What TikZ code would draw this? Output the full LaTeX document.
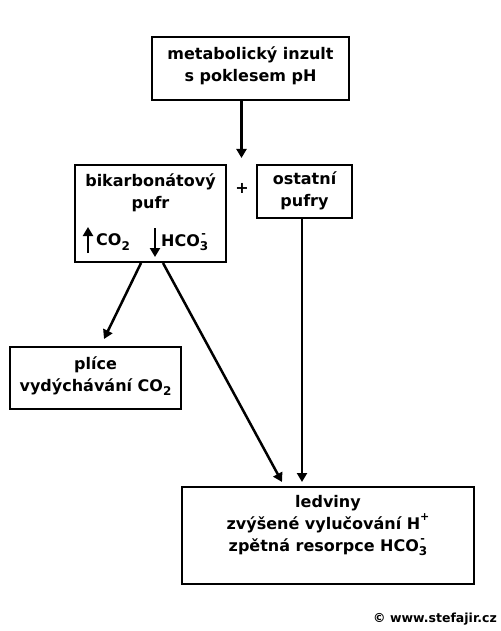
\documentclass[tikz,border=0pt]{standalone}
\usepackage{fontspec}
\setmainfont{DejaVu Sans}
\usetikzlibrary{arrows.meta}
\newcommand{\mysub}[1]{\raisebox{-0.5ex}{\fontsize{12}{12}\selectfont #1}}
\newcommand{\mysup}[1]{\raisebox{1.0ex}{\fontsize{11}{11}\selectfont #1}}
\newcommand{\mysubsup}[2]{\rlap{\raisebox{1.0ex}{\fontsize{11}{11}\selectfont\kern1.5pt #2}}\raisebox{-0.5ex}{\fontsize{12}{12}\selectfont #1}}
\begin{document}
\begin{tikzpicture}[x=1pt,y=-1pt,
  box/.style={draw,line width=2.5pt,inner sep=0pt},
  lbl/.style={font=\bfseries\fontsize{16}{22}\selectfont,align=center,inner sep=0pt},
  arr/.style={line width=2.5pt,-{Triangle[length=9pt,width=10pt]}}]
\useasboundingbox (0,0) rectangle (500,631);
% boxes
\node[box,minimum width=197pt,minimum height=63pt] (top) at (250.5,68.5) {};
\node[box,minimum width=151pt,minimum height=97pt] (bik) at (150.5,213.5) {};
\node[box,minimum width=95pt,minimum height=53pt] (ost) at (304.5,191.5) {};
\node[box,minimum width=171pt,minimum height=62pt] (pli) at (95.5,378) {};
\node[box,minimum width=292pt,minimum height=97pt] (led) at (328,535.5) {};
% texts
\node[lbl] (toptxt) at (250.5,66) {metabolický inzult\\s poklesem pH};
\node[lbl] (biktxt) at (150.5,192.5) {bikarbonátový\\pufr};
\node[lbl] (osttxt) at (304.5,190.5) {ostatní\\pufry};
\node[lbl] (plitxt) at (95.5,376) {plíce\\vydýchávání CO\mysub{2}};
\node[lbl] (ledtxt) at (328,525.5) {ledviny\\zvýšené vylučování H\mysup{+}\\zpětná resorpce HCO\mysubsup{3}{-}};
\node[lbl,anchor=west] (co2) at (96,242) {CO\mysub{2}};
\node[lbl,anchor=west] (hco3) at (161,242) {HCO\mysubsup{3}{-}};
\node[lbl] (plus) at (242,188) {+};
\node[font=\bfseries\fontsize{12.5}{14}\selectfont,anchor=east,inner sep=0pt] (copy) at (497,619) {© www.stefajir.cz};
% small arrows inside
\coordinate (u1) at (88,253);
\coordinate (u2) at (88,227);
\coordinate (d1) at (155,228);
\coordinate (d2) at (155,257);
\draw[arr] (u1) -- (u2);
\draw[arr] (d1) -- (d2);
% connector end points
\coordinate (t1) at (241.5,158);
\coordinate (p1) at (141,263);
\coordinate (p2) at (104,339);
\coordinate (l1) at (163,263);
\coordinate (l2) at (282,482);
\coordinate (o2) at (302,482);
% connectors
\draw[arr] (t1 |- top.south) -- (t1);
\draw[arr] (p1) -- (p2);
\draw[arr] (l1) -- (l2);
\draw[arr] (o2 |- ost.south) -- (o2);
\end{tikzpicture}
\end{document}
